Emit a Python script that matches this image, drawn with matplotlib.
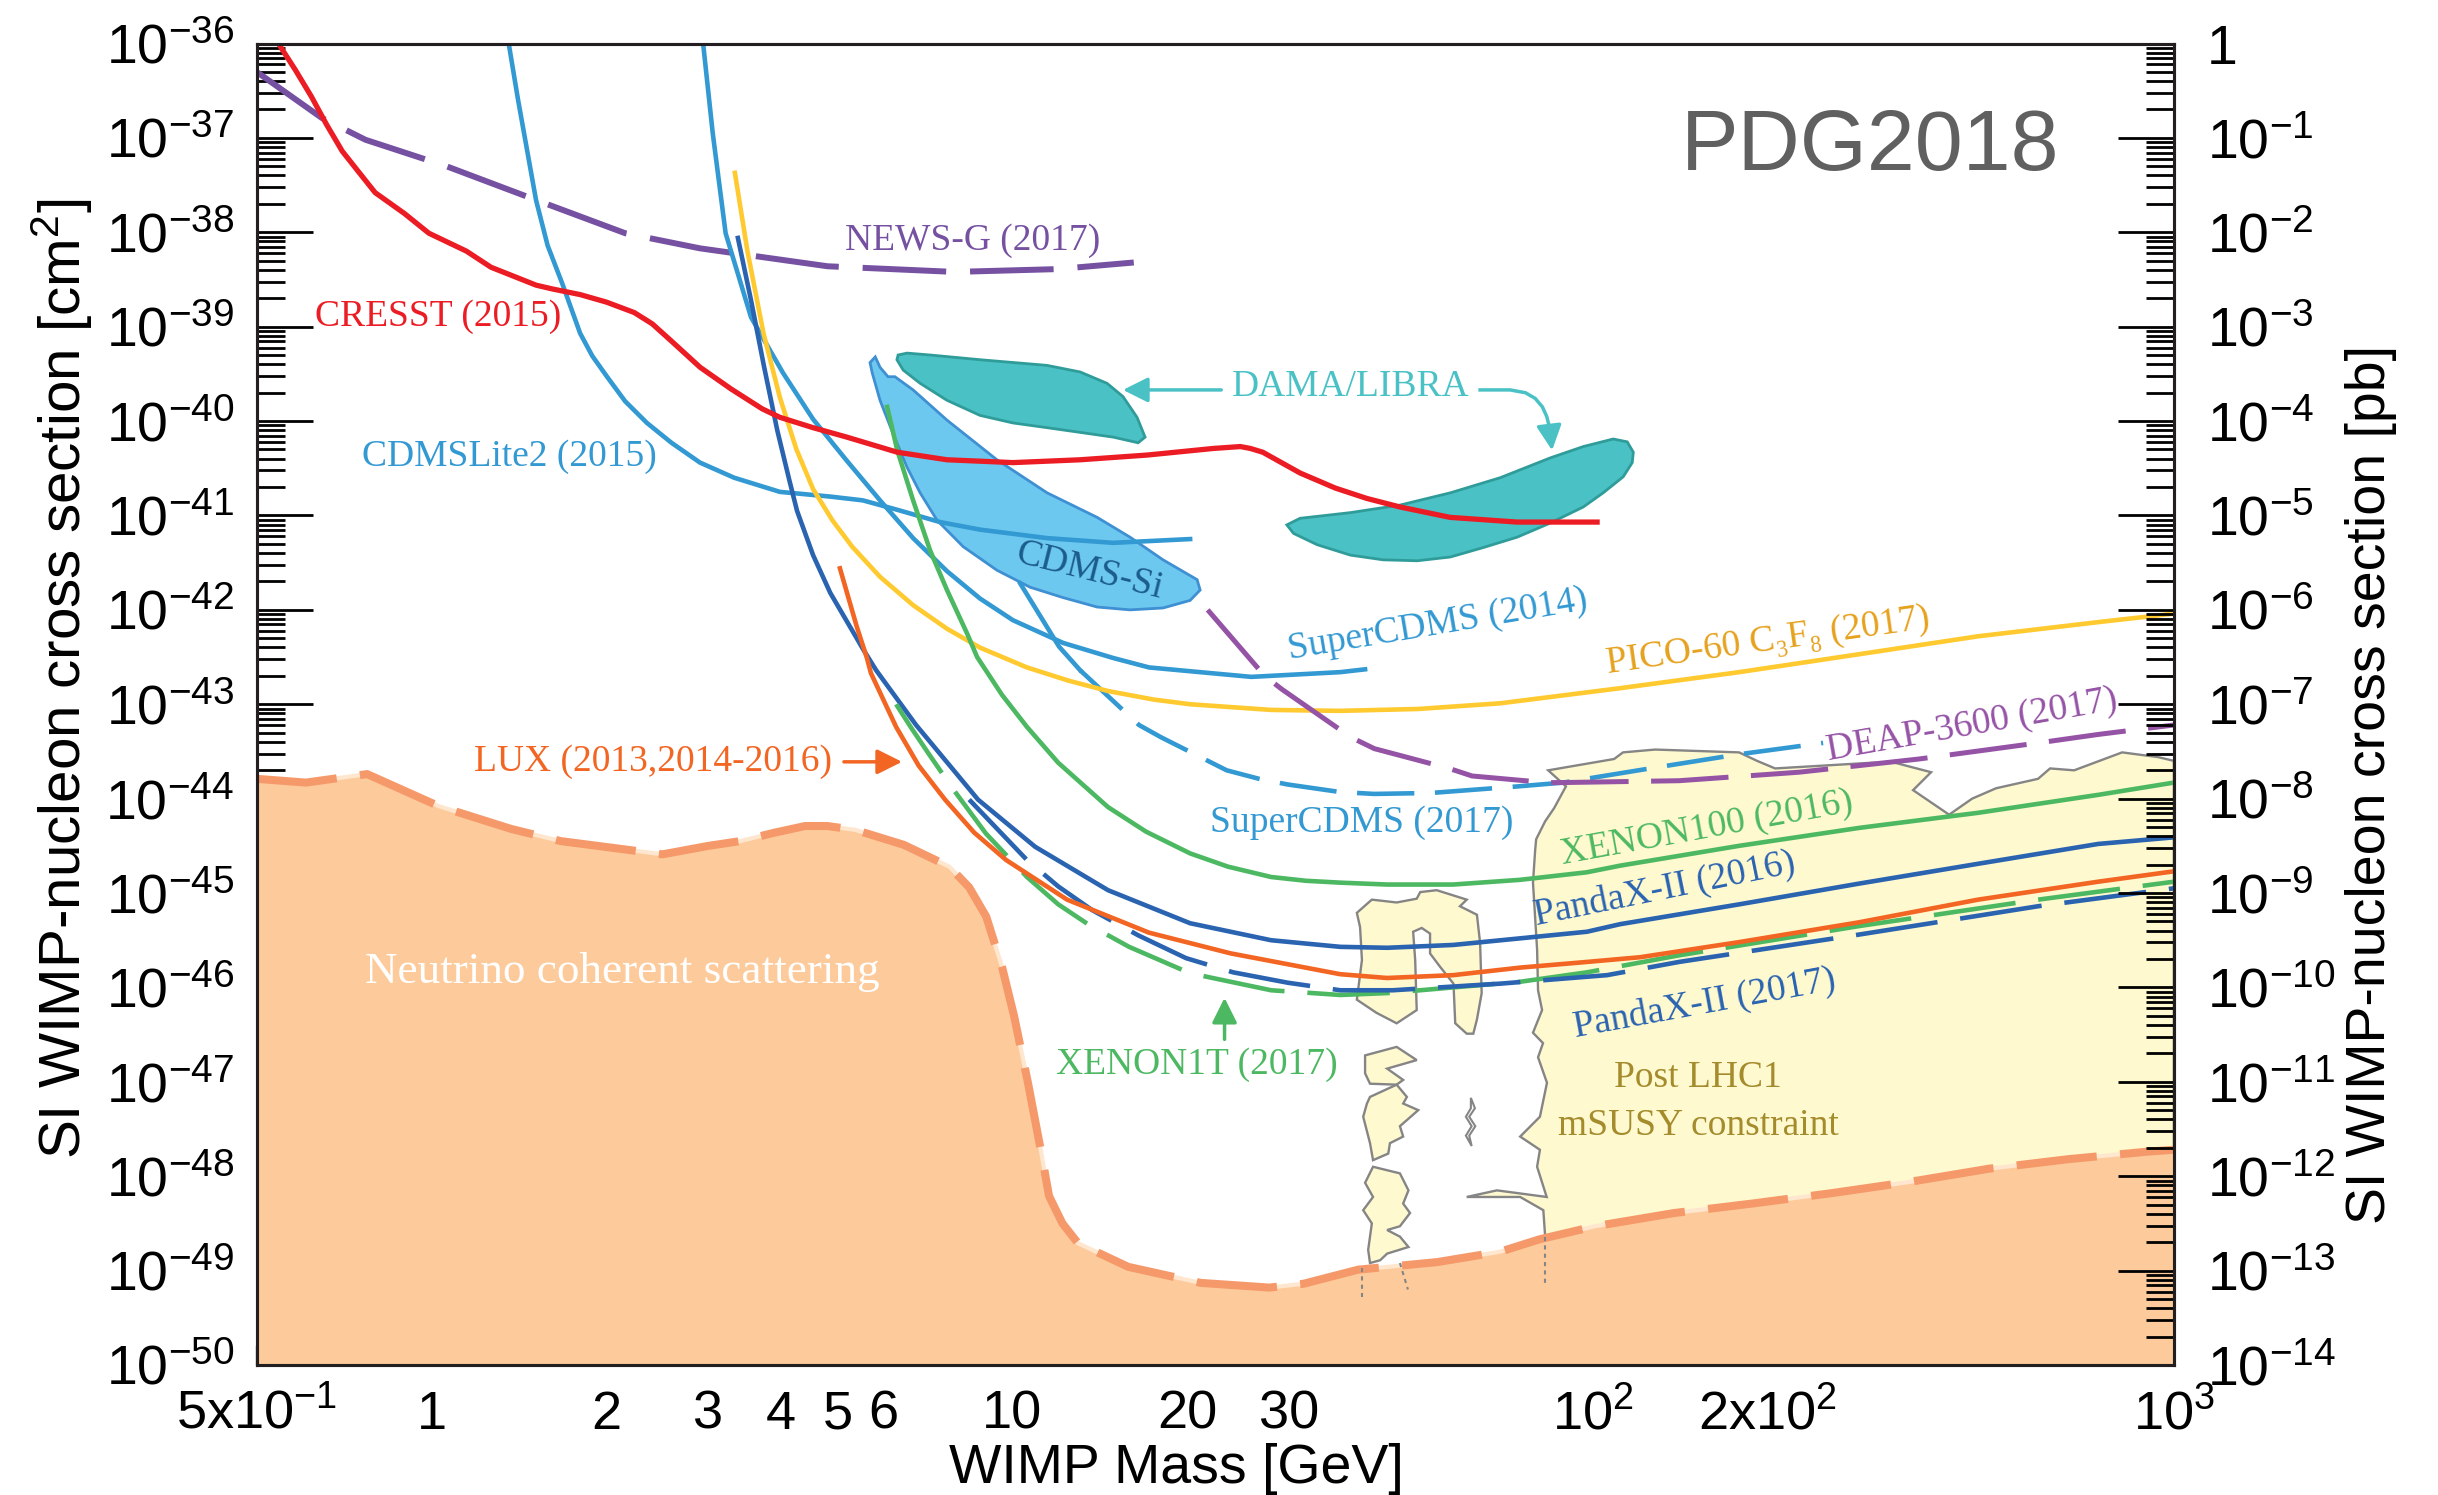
import numpy as np
import matplotlib
matplotlib.use('Agg')
import matplotlib.pyplot as plt
from matplotlib.patches import Polygon
from matplotlib.ticker import FixedLocator, FuncFormatter, NullFormatter

SANS = ['Liberation Sans', 'DejaVu Sans']
SERIF = ['Liberation Serif', 'DejaVu Serif']
plt.rcParams['font.family'] = SANS
plt.rcParams['mathtext.fontset'] = 'custom'
plt.rcParams['mathtext.rm'] = 'Liberation Sans'
plt.rcParams['mathtext.it'] = 'Liberation Sans:italic'
plt.rcParams['mathtext.bf'] = 'Liberation Sans:bold'

# WIMP mass [GeV] and log10 of the SI cross section [cm^2]
newsg_m = [0.5, 0.648, 0.770, 1.061, 1.517, 2.156, 2.899, 4.81, 7.96, 11.96, 16.19]
newsg_s = [-36.30, -36.79, -37.02, -37.30, -37.66, -38.01, -38.17, -38.36, -38.42, -38.39, -38.32]

cresst_m = [0.535, 0.549, 0.583, 0.621, 0.660, 0.702, 0.747, 0.800, 0.898, 0.99, 1.149, 1.266,
            1.514, 1.614, 1.803, 2.002, 2.234, 2.40, 2.576, 2.901, 3.28, 3.71, 3.98, 4.54, 5.19,
            6.34, 7.72, 10.03, 13.09, 17.07, 22.2, 24.7, 25.7, 27.0, 31.3, 36.0, 40.8, 46.5, 56.7,
            74.0, 101.6]
cresst_s = [-35.90, -36.03, -36.28, -36.56, -36.86, -37.14, -37.35, -37.58, -37.80, -38.01, -38.20,
            -38.37, -38.56, -38.60, -38.66, -38.74, -38.85, -38.97, -39.14, -39.43, -39.66, -39.87,
            -39.96, -40.07, -40.17, -40.33, -40.41, -40.44, -40.41, -40.36, -40.29, -40.27, -40.29,
            -40.33, -40.55, -40.71, -40.82, -40.91, -41.02, -41.07, -41.07]

cdmslite_m = [1.35, 1.41, 1.514, 1.585, 1.679, 1.803, 1.892, 2.006, 2.155, 2.35, 2.59, 2.90, 3.32,
              3.98, 4.86, 5.53, 6.34, 7.51, 8.80, 11.48, 14.92, 20.24]
cdmslite_s = [-35.90, -36.60, -37.66, -38.14, -38.54, -39.07, -39.31, -39.53, -39.79, -40.02, -40.23,
              -40.44, -40.60, -40.75, -40.80, -40.84, -40.94, -41.07, -41.15, -41.24, -41.29, -41.25]

scdms14_m = [2.93, 3.05, 3.21, 3.55, 4.03, 4.54, 5.19, 5.92, 6.75, 7.72, 8.80, 10.03, 12.23,
             14.92, 17.2, 25.8, 36.7, 40.5]
scdms14_s = [-35.95, -36.95, -38.01, -38.90, -39.49, -39.98, -40.42, -40.84, -41.24, -41.59,
             -41.88, -42.11, -42.35, -42.51, -42.61, -42.71, -42.66, -42.63]

scdms17_solid_m = [10.32, 12.04, 13.09]
scdms17_solid_s = [-41.72, -42.39, -42.64]
scdms17_m = [13.09, 16.53, 18.04, 23.4, 26.6, 29.8, 36.7, 42.0, 52.6, 74.3, 88.8, 125.3, 178.4, 248.9]
scdms17_s = [-42.64, -43.22, -43.35, -43.70, -43.79, -43.85, -43.93, -43.95, -43.94, -43.87,
             -43.83, -43.68, -43.53, -43.41]

pico_m = [3.33, 3.50, 3.73, 3.98, 4.25, 4.54, 4.90, 5.30, 5.92, 6.75, 7.72, 8.80, 10.6, 12.5,
          14.62, 17.5, 20.24, 27.9, 36.7, 50.0, 69.2, 111.3, 178.4, 287.1, 460.2, 740.5, 1000]
pico_s = [-37.37, -38.20, -39.07, -39.75, -40.30, -40.72, -41.05, -41.33, -41.65, -41.95, -42.20,
          -42.40, -42.61, -42.75, -42.86, -42.95, -43.00, -43.06, -43.07, -43.05, -42.99, -42.83,
          -42.66, -42.47, -42.28, -42.13, -42.04]

xe100_m = [6.09, 6.34, 6.75, 7.22, 7.72, 8.36, 8.70, 9.6, 10.6, 12.0, 14.62, 17.0, 20.24, 23.5,
           27.9, 32.0, 36.7, 44.2, 57.4, 74.9, 97.6, 111.3, 178.4, 287.1, 460.2, 740.5, 1000]
xe100_s = [-39.85, -40.31, -40.84, -41.37, -41.79, -42.25, -42.50, -42.90, -43.24, -43.62, -44.09,
           -44.35, -44.58, -44.72, -44.83, -44.87, -44.89, -44.91, -44.91, -44.86, -44.78, -44.71,
           -44.50, -44.31, -44.15, -43.96, -43.83]

panda16_m = [3.37, 3.55, 3.74, 3.94, 4.13, 4.26, 4.54, 4.86, 5.54, 5.83, 6.83, 8.73, 10.95, 14.62,
             20.24, 27.9, 36.7, 44.2, 57.4, 74.9, 97.6, 111.3, 178.4, 287.1, 460.2, 740.5, 1000]
panda16_s = [-38.06, -38.72, -39.43, -40.10, -40.62, -40.95, -41.42, -41.82, -42.42, -42.64,
             -43.22, -44.01, -44.51, -44.97, -45.32, -45.50, -45.57, -45.58, -45.55, -45.48,
             -45.41, -45.33, -45.12, -44.90, -44.69, -44.48, -44.41]

lux_m = [5.05, 5.40, 5.62, 5.71, 6.31, 6.9, 7.66, 8.6, 9.76, 12.43, 17.20, 23.8, 36.7, 44.2,
         57.4, 74.9, 97.6, 120.5, 178.4, 287.1, 460.2, 740.5, 1000]
lux_s = [-41.56, -42.18, -42.51, -42.67, -43.24, -43.65, -44.01, -44.36, -44.65, -45.07, -45.42,
         -45.64, -45.86, -45.90, -45.87, -45.79, -45.73, -45.68, -45.52, -45.31, -45.07, -44.88,
         -44.77]

xe1t_m = [6.31, 6.7, 7.19, 7.91, 9.01, 10.6, 12.0, 13.5, 15.89, 20.24, 27.9, 36.7, 44.2, 57.4,
          74.9, 97.6, 140.6, 287.1, 583.6, 1000]
xe1t_s = [-43.00, -43.25, -43.53, -43.90, -44.37, -44.83, -45.12, -45.33, -45.57, -45.85, -46.03,
          -46.08, -46.06, -46.00, -45.94, -45.84, -45.66, -45.35, -45.07, -44.88]

panda17_m = [8.43, 10.6, 12.0, 13.72, 16.5, 19.92, 24.0, 29.8, 36.7, 45.2, 69.2, 105.7, 140.6,
             287.1, 583.6, 1000]
panda17_s = [-44.01, -44.65, -44.93, -45.18, -45.45, -45.69, -45.84, -45.95, -46.03, -46.03,
             -45.96, -45.87, -45.73, -45.44, -45.14, -44.95]

deap_m = [21.7, 27.2, 29.1, 38.3, 42.0, 56.5, 61.9, 83.0, 87.7, 140.6, 226.2, 364.0, 583.6, 740.5, 1000]
deap_s = [-42.00, -42.70, -42.84, -43.35, -43.47, -43.68, -43.76, -43.83, -43.83, -43.81, -43.72,
          -43.58, -43.41, -43.32, -43.22]

floor_m = [0.5, 0.608, 0.775, 1.03, 1.37, 1.67, 2.50, 3.0, 3.4, 3.9, 4.4, 4.8, 5.36, 6.51, 7.79,
           8.43, 9.02, 9.60, 10.07, 10.65, 11.21, 11.57, 12.2, 12.98, 15.83, 21.1, 27.7, 31.7,
           39.4, 53.9, 69.2, 80.7, 100.8, 137.9, 187.8, 257, 351, 481, 657, 899, 1000]
floor_s = [-43.79, -43.83, -43.74, -44.08, -44.32, -44.45, -44.59, -44.50, -44.45, -44.36, -44.29,
           -44.29, -44.33, -44.49, -44.72, -44.94, -45.25, -45.78, -46.30, -47.02, -47.74, -48.21,
           -48.50, -48.71, -48.96, -49.13, -49.18, -49.14, -48.99, -48.91, -48.80, -48.67, -48.53,
           -48.39, -48.29, -48.18, -48.06, -47.92, -47.82, -47.74, -47.72]

# closed regions (mass, log10 sigma)
dama_low = [(6.36, -39.30), (6.59, -39.28), (7.22, -39.30), (8.80, -39.35), (11.48, -39.41),
            (13.09, -39.48), (14.56, -39.60), (15.51, -39.74), (16.40, -39.96), (16.93, -40.17),
            (16.47, -40.23), (14.92, -40.17), (13.09, -40.12), (11.48, -40.07), (10.03, -40.02),
            (8.80, -39.94), (7.72, -39.78), (6.94, -39.60), (6.49, -39.46), (6.33, -39.35)]
dama_high = [(29.7, -41.10), (31.3, -41.03), (38.2, -40.97), (46.5, -40.89), (56.8, -40.76),
             (69.2, -40.60), (84.4, -40.39), (96.2, -40.27), (108.3, -40.19), (114.5, -40.22),
             (117.3, -40.33), (116.8, -40.44), (112.7, -40.59), (104.1, -40.76), (96.2, -40.91),
             (84.4, -41.08), (74.0, -41.23), (64.7, -41.34), (56.8, -41.44), (49.8, -41.48),
             (43.5, -41.47), (38.2, -41.42), (33.5, -41.31), (30.5, -41.19)]
cdms_si = [(5.81, -39.32), (5.92, -39.43), (6.11, -39.53), (6.28, -39.53), (6.75, -39.67),
           (7.72, -39.99), (9.41, -40.41), (11.48, -40.76), (14.00, -41.02), (15.95, -41.23),
           (18.18, -41.47), (20.81, -41.68), (21.06, -41.79), (20.24, -41.90), (18.18, -41.98),
           (15.95, -42.00), (14.00, -41.97), (12.23, -41.87), (10.73, -41.76), (9.41, -41.58),
           (8.23, -41.33), (7.42, -41.05), (6.94, -40.76), (6.59, -40.49), (6.23, -40.13),
           (5.92, -39.78), (5.74, -39.49), (5.69, -39.38)]

susy_main = [(83.7, -43.70), (108.7, -43.58), (112.6, -43.51), (127.9, -43.48), (178.4, -43.51),
             (191.6, -43.60), (205.8, -43.68), (301.1, -43.62), (331.1, -43.62), (381.9, -43.72),
             (355.6, -43.91), (410.2, -44.17), (449.4, -44.00), (494.2, -43.89), (583.6, -43.79),
             (612.1, -43.68), (673.3, -43.70), (814.5, -43.51), (939.3, -43.56), (1000, -43.60),
             (1000, -48.5), (82.7, -49.0), (82.7, -48.64), (82.1, -48.36), (74.9, -48.22),
             (60.6, -48.22), (68.3, -48.15), (83.2, -48.22), (80.1, -47.90), (81.0, -47.72),
             (74.9, -47.58), (81.0, -47.37), (83.3, -47.01), (80.4, -46.74), (82.0, -46.59),
             (78.8, -46.48), (81.7, -46.24), (80.4, -46.03), (80.1, -45.60), (78.8, -44.89),
             (79.5, -44.54), (79.8, -44.43), (82.7, -44.24), (85.7, -44.10), (89.8, -43.87)]
susy_islands = [
    [(39.2, -45.21), (41.6, -45.07), (45.9, -45.10), (49.7, -45.06), (50.4, -44.99), (53.8, -44.97),
     (60.6, -45.07), (59.0, -45.14), (63.1, -45.23), (63.9, -45.53), (64.3, -46.06), (63.1, -46.34),
     (62.2, -46.49), (60.6, -46.49), (57.9, -46.38), (57.5, -45.96), (54.5, -45.78), (52.4, -45.64),
     (52.4, -45.43), (50.7, -45.37), (49.0, -45.41), (49.4, -45.71), (49.7, -46.24), (45.9, -46.38),
     (42.4, -46.27), (39.2, -46.13), (40.0, -45.71), (39.7, -45.36)],
    [(40.5, -46.72), (45.9, -46.63), (49.7, -46.77), (44.2, -46.86), (47.1, -46.98), (45.9, -47.03),
     (41.3, -47.02), (40.5, -46.91)],
    [(41.3, -47.16), (45.9, -47.03), (47.8, -47.16), (47.1, -47.23), (50.0, -47.30), (46.5, -47.47),
     (47.1, -47.58), (44.7, -47.65), (44.4, -47.76), (41.8, -47.83), (41.3, -47.65), (40.2, -47.37),
     (40.8, -47.23)],
    [(41.8, -47.90), (46.5, -47.97), (48.1, -48.15), (47.1, -48.29), (48.4, -48.39), (46.5, -48.53),
     (44.2, -48.57), (46.5, -48.64), (48.1, -48.75), (44.2, -48.82), (43.0, -48.89), (41.3, -48.92),
     (41.0, -48.78), (41.3, -48.64), (41.6, -48.50), (40.2, -48.36), (41.8, -48.22), (40.5, -48.07)],
]
susy_chain = [(61.6, -47.17), (62.6, -47.28), (61.2, -47.37), (62.7, -47.47), (61.2, -47.57),
              (61.8, -47.68), (60.4, -47.57), (61.8, -47.47), (60.4, -47.37), (61.6, -47.28)]
susy_dots = [([40.0, 40.0], [-48.97, -49.28]), ([46.5, 48.0], [-48.92, -49.20]),
             ([82.7, 82.7], [-48.64, -49.17])]

# text labels: text, mass, log10 sigma, colour key, rotation
curve_labels = [
    ('NEWS-G (2017)', 8.56, -38.09, 'newsg', 0),
    ('CRESST (2015)', 1.027, -38.89, 'cresst', 0),
    ('CDMSLite2 (2015)', 1.36, -40.38, 'lblue', 0),
    ('CDMS-Si', 13.56, -41.59, 'cdmssi_txt', -14),
    ('SuperCDMS (2014)', 54.1, -42.16, 'lblue', 9.5),
    ('PICO-60 C\u2083F\u2088 (2017)', 200.1, -42.33, 'pico_txt', 8),
    ('DEAP-3600 (2017)', 449.3, -43.22, 'deap', 10),
    ('SuperCDMS (2017)', 39.9, -44.26, 'lblue', 0),
    ('XENON100 (2016)', 156.7, -44.32, 'green', 10.3),
    ('PandaX-II (2016)', 132.6, -44.96, 'dblue', 11.5),
    ('PandaX-II (2017)', 155.3, -46.17, 'dblue', 10.4),
    ('LUX (2013,2014-2016)', 2.41, -43.61, 'lux', 0),
    ('XENON1T (2017)', 20.8, -46.82, 'green', 0),
    ('DAMA/LIBRA', 38.2, -39.64, 'dama', 0),
]

col = {
    'newsg': '#7651A2', 'cresst': '#EC1C24', 'lblue': '#3399D2', 'pico': '#FFC930',
    'pico_txt': '#E6A21E', 'green': '#4DB862', 'dblue': '#2A63B0', 'lux': '#F26522',
    'deap': '#9553A6', 'dama': '#4AC1C5', 'dama_edge': '#2F9C9A', 'cdmssi': '#6DC8EF',
    'cdmssi_edge': '#3F8FD3', 'cdmssi_txt': '#1B5C8C', 'floor': '#FDCB9B', 'floor_line': '#F6996A',
    'susy': '#FFF9D0', 'susy_edge': '#858585', 'susy_txt': '#A48B2C',
}


def sig(a):
    return 10.0 ** np.asarray(a, dtype=float)


def region(points):
    p = np.array(points, dtype=float)
    return np.column_stack([p[:, 0], 10.0 ** p[:, 1]])


fig = plt.figure(figsize=(24.38, 14.95), dpi=100)
ax = fig.add_axes([0.10525, 0.08696, 0.78642, 0.88394])
ax.set_xscale('log')
ax.set_yscale('log')
ax.set_xlim(0.5, 1000)
ax.set_ylim(1e-50, 1e-36)

# mSUSY region and islands
ax.add_patch(Polygon(region(susy_main), closed=True, fc=col['susy'], ec=col['susy_edge'], lw=1.7, zorder=1))
for isl in susy_islands:
    ax.add_patch(Polygon(region(isl), closed=True, fc=col['susy'], ec=col['susy_edge'], lw=1.7, zorder=1))
ax.add_patch(Polygon(region(susy_chain), closed=True, fc='white', ec=col['susy_edge'], lw=1.5, zorder=1))

# neutrino floor
ax.fill_between(floor_m, 1e-52, sig(floor_s), color=col['floor'], lw=0, zorder=2)
ax.plot(floor_m, sig(floor_s), color='#FEE6CF', lw=3, zorder=2.1)
ax.plot(floor_m, sig(floor_s), color=col['floor_line'], lw=5.8, dashes=(10, 2.9), zorder=2.2)
for xm, ys in susy_dots:
    ax.plot(xm, sig(ys), color=col['susy_edge'], lw=1.5, dashes=(2, 2), zorder=2.3)

# DAMA / CDMS-Si signal regions
ax.add_patch(Polygon(region(cdms_si), closed=True, fc=col['cdmssi'], ec=col['cdmssi_edge'], lw=2, zorder=3))
ax.add_patch(Polygon(region(dama_low), closed=True, fc=col['dama'], ec=col['dama_edge'], lw=2, zorder=3))
ax.add_patch(Polygon(region(dama_high), closed=True, fc=col['dama'], ec=col['dama_edge'], lw=2, zorder=3))

# limit curves
LW = 3.3
ax.plot(newsg_m, sig(newsg_s), color=col['newsg'], lw=4.3, dashes=(14, 4), zorder=4)
ax.plot(cdmslite_m, sig(cdmslite_s), color=col['lblue'], lw=LW, zorder=4)
ax.plot(scdms14_m, sig(scdms14_s), color=col['lblue'], lw=LW, zorder=4)
ax.plot(scdms17_solid_m, sig(scdms17_solid_s), color=col['lblue'], lw=LW, zorder=4)
ax.plot(scdms17_m, sig(scdms17_s), color=col['lblue'], lw=LW, dashes=(12.5, 4.5), zorder=4)
ax.plot(pico_m, sig(pico_s), color=col['pico'], lw=LW, zorder=4)
ax.plot(deap_m, sig(deap_s), color=col['deap'], lw=3.6, dashes=(15.5, 4.5), zorder=4)
ax.plot(xe100_m, sig(xe100_s), color=col['green'], lw=LW, zorder=4)
ax.plot(panda16_m, sig(panda16_s), color=col['dblue'], lw=LW, zorder=4)
ax.plot(xe1t_m, sig(xe1t_s), color=col['green'], lw=LW, dashes=(18, 5), zorder=4)
ax.plot(panda17_m, sig(panda17_s), color=col['dblue'], lw=LW, dashes=(18, 5), zorder=4.1)
ax.plot(lux_m, sig(lux_s), color=col['lux'], lw=LW, zorder=4.2)
ax.plot(cresst_m, sig(cresst_s), color=col['cresst'], lw=3.8, zorder=4.3)

# labels
for txt, xm, ys, ck, rot in curve_labels:
    ax.text(xm, 10.0 ** ys, txt, color=col[ck], fontsize=27, family=SERIF, rotation=rot,
            ha='center', va='center', zorder=6)
ax.text(2.13, 10.0 ** -45.84, 'Neutrino coherent scattering', color='white', fontsize=32.5,
        family=SERIF, ha='center', va='center', zorder=6)
ax.text(151.7, 10.0 ** -46.96, 'Post LHC1', color=col['susy_txt'], fontsize=27, family=SERIF,
        ha='center', va='center', zorder=6)
ax.text(151.7, 10.0 ** -47.47, 'mSUSY constraint', color=col['susy_txt'], fontsize=27, family=SERIF,
        ha='center', va='center', zorder=6)
ax.text(0.8415, 0.921, 'PDG2018', transform=ax.transAxes, color='#606060', fontsize=62,
        ha='center', va='center', zorder=6)

# arrows
arr = dict(arrowstyle='-|>', lw=2.5, mutation_scale=38, shrinkA=0, shrinkB=0)
ax.annotate('', xy=(6.46, 10 ** -43.61), xytext=(5.13, 10 ** -43.61),
            arrowprops=dict(arr, color=col['lux']), zorder=6)
ax.annotate('', xy=(23.2, 10 ** -46.11), xytext=(23.2, 10 ** -46.55),
            arrowprops=dict(arr, color=col['green']), zorder=6)
ax.annotate('', xy=(15.51, 10 ** -39.67), xytext=(22.9, 10 ** -39.67),
            arrowprops=dict(arr, color=col['dama']), zorder=6)
dama_arc_m = [63.9, 72.0, 76.5, 79.5, 81.8, 83.2, 84.0]
dama_arc_s = [-39.67, -39.67, -39.70, -39.76, -39.85, -39.95, -40.05]
ax.plot(dama_arc_m, sig(dama_arc_s), color=col['dama'], lw=2.5, zorder=6)
ax.annotate('', xy=(85.0, 10 ** -40.31), xytext=(84.0, 10 ** -40.05),
            arrowprops=dict(arr, color=col['dama']), zorder=6)

# axes, ticks
x_major = [1, 10, 100, 1000]
x_minor = [0.5, 0.6, 0.7, 0.8, 0.9, 2, 3, 4, 5, 6, 7, 8, 9, 20, 30, 40, 50, 60, 70, 80, 90,
           200, 300, 400, 500, 600, 700, 800, 900]
x_major_lab = {1: '1', 10: '10', 100: r'$10^{2}$', 1000: r'$10^{3}$'}
x_minor_lab = {0.5: r'$5\mathrm{x}10^{-1}$', 2: '2', 3: '3', 4: '4', 5: '5', 6: '6',
               20: '20', 30: '30', 200: r'$2\mathrm{x}10^{2}$'}

ax.xaxis.set_major_locator(FixedLocator(x_major))
ax.xaxis.set_minor_locator(FixedLocator(x_minor))
ax.xaxis.set_major_formatter(FuncFormatter(lambda v, p: x_major_lab.get(round(v, 3), '')))
ax.xaxis.set_minor_formatter(FuncFormatter(lambda v, p: x_minor_lab.get(round(v, 3), '')))

y_decades = 10.0 ** np.arange(-50, -35)
y_minor = np.outer(y_decades[:-1], np.arange(2, 10)).ravel()
ax.yaxis.set_major_locator(FixedLocator(y_decades))
ax.yaxis.set_minor_locator(FixedLocator(y_minor))
ax.yaxis.set_major_formatter(FuncFormatter(lambda v, p: r'$10^{%d}$' % round(np.log10(v))))
ax.yaxis.set_minor_formatter(NullFormatter())

ax.tick_params(axis='x', which='major', direction='in', length=29, width=1.6, top=False,
               labelsize=39, pad=46)
ax.tick_params(axis='x', which='minor', direction='in', length=14, width=1.6, top=False,
               labelsize=39, pad=46)
ax.tick_params(axis='y', which='major', direction='in', length=40, width=2.0, right=False,
               labelsize=40, pad=16)
ax.tick_params(axis='y', which='minor', direction='in', length=20, width=2.0, right=False)
for s in ax.spines.values():
    s.set_linewidth(2.2)
    s.set_color('#231F20')

ax2 = ax.twinx()
ax2.set_yscale('log')
ax2.set_ylim(1e-14, 1)
pb_decades = 10.0 ** np.arange(-14, 1)
pb_minor = np.outer(pb_decades[:-1], np.arange(2, 10)).ravel()
ax2.yaxis.set_major_locator(FixedLocator(pb_decades))
ax2.yaxis.set_minor_locator(FixedLocator(pb_minor))
ax2.yaxis.set_major_formatter(FuncFormatter(
    lambda v, p: '1' if round(np.log10(v)) == 0 else r'$10^{%d}$' % round(np.log10(v))))
ax2.yaxis.set_minor_formatter(NullFormatter())
ax2.tick_params(axis='y', which='major', direction='in', length=40, width=2.0, labelsize=40, pad=24)
ax2.tick_params(axis='y', which='minor', direction='in', length=20, width=2.0)
for s in ax2.spines.values():
    s.set_linewidth(2.2)
    s.set_color('#231F20')

ax.set_xlabel('WIMP Mass [GeV]', fontsize=40)
ax.xaxis.set_label_coords(0.48, -0.0785)
ax.xaxis.label.set_va('center')
ax.set_ylabel(r'SI WIMP-nucleon cross section [cm$^{2}$]', fontsize=42)
ax.yaxis.set_label_coords(-0.1015, 0.519)
ax.yaxis.label.set_va('center')
ax2.set_ylabel('SI WIMP-nucleon cross section [pb]', fontsize=40)
ax2.yaxis.set_label_coords(1.1028, 0.439)
ax2.yaxis.label.set_va('center')

fig.canvas.draw()
for t in ax.get_xticklabels(which='both'):
    t.set_va('baseline')

fig.savefig('out.png', dpi=100)
